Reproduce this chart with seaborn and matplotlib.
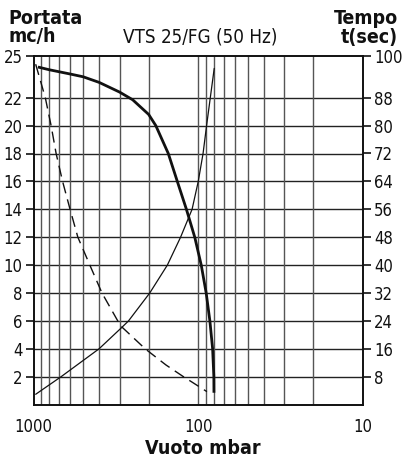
import os
import matplotlib
matplotlib.use("Agg")
import matplotlib.pyplot as plt
from matplotlib import font_manager as fm
import seaborn as sns
import pandas as pd
from matplotlib.ticker import FixedLocator

# ---- data ----
# thick solid curve: flow (mc/h) vs vacuum (mbar)
flow_p = [940, 800, 600, 500, 400, 300, 250, 200, 181, 152, 134, 118, 105, 95.9, 89.5, 85, 81.8, 80.4, 80.3]
flow_q = [24.2, 24.0, 23.7, 23.5, 23.1, 22.4, 21.85, 20.8, 20, 18, 16, 14, 12, 10, 8, 6, 4, 2, 0.85]

# dashed curve (left scale)
dash_p = [970, 848, 782, 729, 666, 600, 538, 455, 384, 308, 290, 210, 157, 123, 110, 88.6]
dash_q = [24.4, 22, 20, 18, 16, 14, 12, 10, 8, 6, 5.55, 4, 2.84, 2, 1.64, 0.93]

# thin solid curve: time (sec) vs vacuum (mbar), right scale
time_p = [970, 680, 400, 290, 265, 197, 154, 128, 109, 100, 93.5, 89, 84.5, 80]
time_s = [2.96, 8, 16, 22.2, 24, 32, 40, 48, 56, 64, 72, 80, 88, 96.4]

x_ticks = [1000, 100, 10]
x_grid = [900, 800, 700, 600, 500, 400, 300, 200, 100, 90, 80, 70, 60, 50, 40, 30, 20]
left_ticks = [2, 4, 6, 8, 10, 12, 14, 16, 18, 20, 22, 25]
right_ticks = [8, 16, 24, 32, 40, 48, 56, 64, 72, 80, 88, 100]

sns.set_style("white")


def find_font(patterns):
    files = list(fm.findSystemFonts(fontext="ttf")) + [f.fname for f in fm.fontManager.ttflist]
    for pat in patterns:
        for f in files:
            if os.path.basename(f).lower() == pat.lower():
                return f
    return None


reg_file = find_font(["LiberationSansNarrow-Regular.ttf", "DejaVuSansCondensed.ttf",
                      "RobotoCondensed-Regular.ttf", "OpenSans_Condensed-Regular.ttf"])
bold_file = find_font(["LiberationSansNarrow-Bold.ttf", "DejaVuSansCondensed-Bold.ttf",
                       "RobotoCondensed-Bold.ttf", "OpenSans_Condensed-Bold.ttf"])


def fp(size, bold=False):
    f = bold_file if bold else reg_file
    if f:
        return fm.FontProperties(fname=f, size=size)
    return fm.FontProperties(family=["Liberation Sans", "DejaVu Sans"], size=size * 0.9,
                             weight="bold" if bold else "normal")


plt.rcParams['font.family'] = ['Liberation Sans', 'DejaVu Sans']

W, H = 403, 463
fig = plt.figure(figsize=(W / 100, H / 100), dpi=100)
y0, y25 = 404.6, 404.6 - 25 * 13.95
ax = fig.add_axes([33.5 / W, 1 - y0 / H, (363 - 33.5) / W, (y0 - y25) / H])

df_flow = pd.DataFrame({"p": flow_p, "q": flow_q})
df_dash = pd.DataFrame({"p": dash_p, "q": dash_q})
df_time = pd.DataFrame({"p": time_p, "t": time_s})

ax.set_xscale("log")
sns.lineplot(data=df_flow, x="p", y="q", ax=ax, sort=False, color="#111111", lw=2.0, zorder=5,
             solid_joinstyle="round", solid_capstyle="butt")
sns.lineplot(data=df_dash, x="p", y="q", ax=ax, sort=False, color="#111111", lw=1.0, zorder=5)
ax.lines[-1].set_dashes([8, 4.5])

ax.set_xlim(1000, 10)
ax.set_ylim(0, 25)

for v in left_ticks[:-1]:
    ax.axhline(v, color="#222222", lw=1.0, zorder=1)
for v in x_grid:
    ax.axvline(v, color="#555555", lw=1.0, zorder=1)

ax.xaxis.set_major_locator(FixedLocator(x_ticks))
ax.xaxis.set_minor_locator(FixedLocator([]))
ax.set_xticklabels([str(t) for t in x_ticks])
ax.set_yticks(left_ticks)
ax.set_yticklabels([str(t) for t in left_ticks])
ax.tick_params(axis="x", direction="out", length=6.5, width=1.2, pad=3, color="#111111")
ax.tick_params(axis="y", direction="out", length=6, width=1.2, pad=2, color="#111111")
for lab in ax.get_xticklabels() + ax.get_yticklabels():
    lab.set_fontproperties(fp(12))
    lab.set_color("#111111")

for side in ["left", "bottom", "top", "right"]:
    ax.spines[side].set_color("#111111")
    ax.spines[side].set_linewidth(1.2)
ax.set_xlabel("")
ax.set_ylabel("")

ax2 = ax.twinx()
sns.lineplot(data=df_time, x="p", y="t", ax=ax2, sort=False, color="#111111", lw=0.9, zorder=5,
             solid_joinstyle="round")
ax2.set_ylim(0, 100)
ax2.set_xlim(1000, 10)
ax2.set_yticks(right_ticks)
ax2.set_yticklabels([str(t) for t in right_ticks])
ax2.tick_params(axis="y", direction="out", length=6, width=1.2, pad=2, color="#111111")
for lab in ax2.get_yticklabels():
    lab.set_fontproperties(fp(12))
    lab.set_color("#111111")
ax2.set_ylabel("")
ax2.set_xlabel("")
for side in ["left", "bottom", "top", "right"]:
    ax2.spines[side].set_color("#111111")
    ax2.spines[side].set_linewidth(1.2)

tc = "#111111"
fig.text(8 / W, 1 - 18 / H, "Portata", ha="left", va="center", fontproperties=fp(14, True), color=tc)
fig.text(8 / W, 1 - 37 / H, "mc/h", ha="left", va="center", fontproperties=fp(14, True), color=tc)
fig.text(398 / W, 1 - 18 / H, "Tempo", ha="right", va="center", fontproperties=fp(14, True), color=tc)
fig.text(398 / W, 1 - 37 / H, "t(sec)", ha="right", va="center", fontproperties=fp(14, True), color=tc)
fig.text(200 / W, 1 - 37 / H, "VTS 25/FG (50 Hz)", ha="center", va="center", fontproperties=fp(13.5), color=tc)
fig.text(203 / W, 1 - 449 / H, "Vuoto mbar", ha="center", va="center", fontproperties=fp(14, True), color=tc)

fig.savefig("out.png", dpi=100)
